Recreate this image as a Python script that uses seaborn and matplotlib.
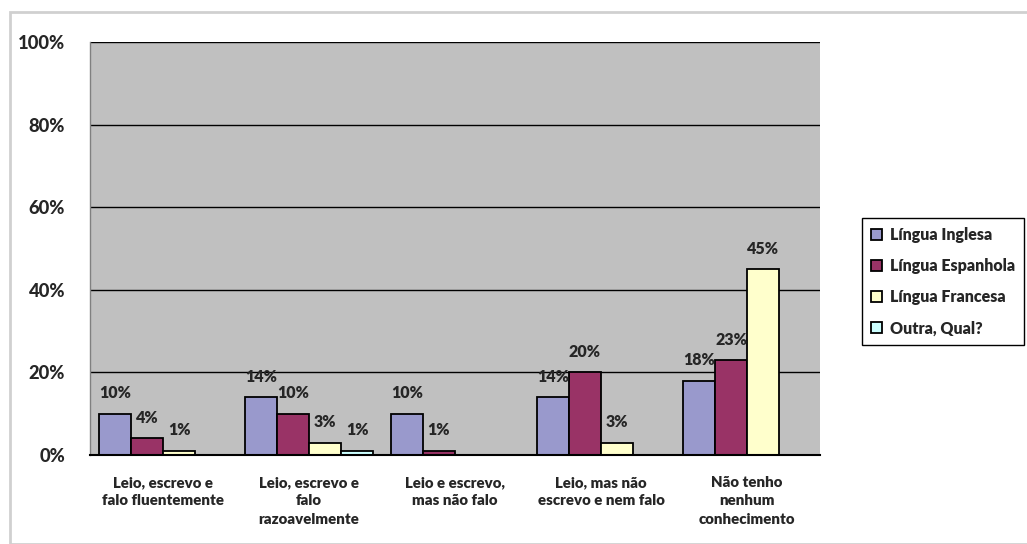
import matplotlib
matplotlib.use("Agg")
import matplotlib.pyplot as plt
import seaborn as sns
import pandas as pd
from matplotlib.patches import Rectangle

categories = ["Leio, escrevo e\nfalo fluentemente", "Leio, escrevo e\nfalo\nrazoavelmente",
              "Leio e escrevo,\nmas não falo", "Leio, mas não\nescrevo e nem falo",
              "Não tenho\nnenhum\nconhecimento"]
series = ["Língua Inglesa", "Língua Espanhola", "Língua Francesa", "Outra, Qual?"]
inglesa = [10, 14, 10, 14, 18]
espanhola = [4, 10, 1, 20, 23]
francesa = [1, 3, 0, 3, 45]
outra = [0, 1, 0, 0, 0]
colors = ["#9999CC", "#993366", "#FFFFCC", "#CCFFFF"]
yticks = [0, 20, 40, 60, 80, 100]

rows = []
for s, vals in zip(series, [inglesa, espanhola, francesa, outra]):
    for c, v in zip(categories, vals):
        rows.append({"cat": c, "serie": s, "val": v})
df = pd.DataFrame(rows)

sns.set_style("white")
fig = plt.figure(figsize=(10.27, 5.44), dpi=100)
fig.patches.append(Rectangle((10/1027, 0), 1.2, 1 - 12/544, transform=fig.transFigure,
                             fill=False, edgecolor="#D0D0D0", linewidth=2))
ax = fig.add_axes([90/1027, 1 - 455/544, 730/1027, 413/544])
sns.barplot(data=df, x="cat", y="val", hue="serie", order=categories, hue_order=series,
            palette=colors, width=0.88, edgecolor="black", linewidth=1.3, ax=ax,
            legend=True, saturation=1)
ax.set_facecolor("#C0C0C0")
ax.set_ylim(0, 100)
ax.set_yticks(yticks)
ax.set_yticklabels([f"{t}%" for t in yticks], fontfamily="Lato",
                   fontweight=900, fontsize=13.2)
ax.yaxis.grid(True, color="black", linewidth=1)
ax.set_axisbelow(True)
ax.set_xlabel("")
ax.set_ylabel("")
ax.set_xticks([i for i in range(len(categories))])
ax.set_xticklabels(categories, fontfamily="Lato", fontweight="heavy", fontsize=10.8,
                   linespacing=1.5)
ax.tick_params(axis="x", length=0, pad=15)
ax.tick_params(axis="y", length=0, pad=18)
# minor ticks between categories
ax.set_xticks([i - 0.5 for i in range(len(categories) + 1)], minor=True)
ax.tick_params(axis="x", which="minor", length=6, width=1, color="black", direction="out")
for side in ["top", "right"]:
    ax.spines[side].set_visible(False)
ax.spines["left"].set_color("#808080")
ax.spines["left"].set_linewidth(1)
ax.spines["bottom"].set_color("black")
ax.spines["bottom"].set_linewidth(1.5)

for cont, vals in zip(ax.containers, [inglesa, espanhola, francesa, outra]):
    labels = [f"{v}%" if v > 0 else "" for v in vals]
    ax.bar_label(cont, labels=labels, padding=9, fontfamily="Lato", fontweight="heavy",
                 fontsize=11.5)

leg = ax.legend(loc="upper left", bbox_to_anchor=((862 - 90) / 730, (455 - 218) / 413),
                frameon=True, fancybox=False, edgecolor="black", framealpha=1,
                prop={"family": "Lato", "weight": "heavy", "size": 11.5},
                handlelength=0.7, handleheight=0.7, handletextpad=0.5, labelspacing=0.95,
                borderpad=0.55, borderaxespad=0)
leg.get_frame().set_linewidth(1)

fig.savefig("out.png", dpi=100)
